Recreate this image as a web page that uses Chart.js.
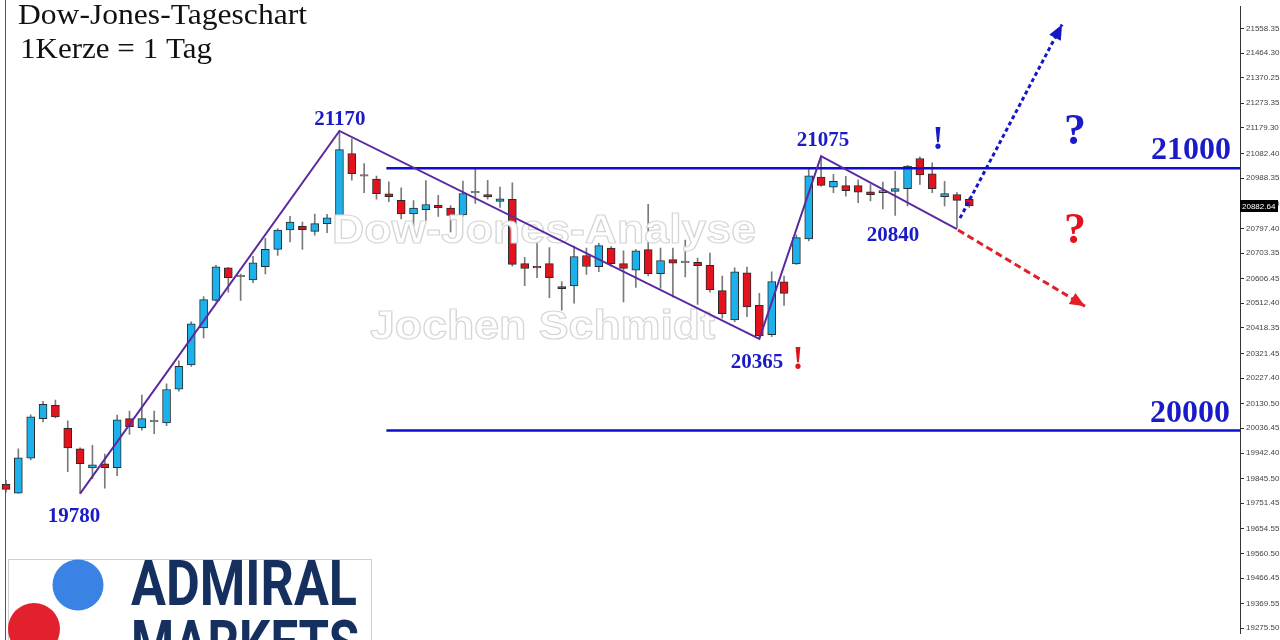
<!DOCTYPE html>
<html><head><meta charset="utf-8">
<script src="https://cdn.jsdelivr.net/npm/chart.js@4.4.1/dist/chart.umd.min.js"></script>
<style>html,body{margin:0;padding:0;background:#fff;}#wrap{width:1280px;height:640px;position:relative;overflow:hidden;}</style>
</head><body><div id="wrap"><canvas id="c" width="1280" height="640"></canvas></div>
<script>
// ---- daily candles (index = trading day) ----
const opens  = [19823,19790,19923,20073,20124,20036,19958,19886,19901,19887,20073,20039,20062,20057,20185,20278,20418,20523,20647,20613,20601,20651,20717,20791,20805,20786,20815,20840,21082,20996,20985,20929,20904,20852,20868,20885,20874,20848,20932,20926,20900,20908,20663,20653,20663,20576,20578,20694,20651,20722,20663,20638,20716,20625,20678,20667,20668,20657,20560,20449,20628,20504,20393,20594,20662,20757,20992,20954,20960,20960,20936,20933,20938,20948,21063,21005,20918,20926,20908];
const highs  = [19838,19958,20088,20139,20144,20065,19962,19972,19938,20087,20102,20163,20102,20206,20293,20442,20538,20657,20649,20623,20691,20759,20796,20843,20821,20852,20851,21168,21138,21044,20996,20974,20951,20903,20979,20923,20884,20977,21026,20980,20954,20970,20687,20754,20724,20595,20730,20722,20740,20728,20712,20716,20889,20722,20722,20753,20684,20703,20616,20647,20650,20550,20632,20616,20773,21026,21069,21003,20995,20982,20964,20973,21014,21037,21069,21047,20976,20933,20914];
const lows   = [19793,19789,19916,20061,20076,19871,19789,19845,19809,19856,20013,20029,20016,20046,20178,20272,20380,20520,20554,20523,20591,20624,20694,20746,20717,20771,20781,20836,20981,20933,20908,20899,20833,20806,20827,20843,20784,20843,20892,20908,20877,20653,20579,20610,20533,20486,20513,20622,20632,20653,20517,20572,20616,20570,20535,20612,20508,20554,20455,20442,20461,20381,20385,20504,20660,20749,20958,20933,20920,20895,20902,20871,20846,20883,20964,20933,20883,20799,20877];
const closes = [19804,19924,20080,20128,20080,19962,19902,19897,19887,20069,20043,20073,20062,20184,20272,20434,20526,20651,20610,20613,20666,20717,20791,20821,20792,20815,20837,21097,21005,20996,20929,20918,20852,20874,20888,20876,20846,20930,20932,20917,20910,20660,20645,20647,20610,20568,20690,20652,20732,20663,20645,20712,20625,20675,20665,20667,20655,20564,20473,20632,20498,20389,20595,20550,20762,20997,20961,20976,20941,20935,20925,20941,20949,21034,21001,20948,20930,20904,20883];
const lastPrice = 20882.64;

// ---- price axis tick labels ----
const yTicks = [21558.35,21464.30,21370.25,21273.35,21179.30,21082.40,20988.35,20891.30,20797.40,20703.35,20606.45,20512.40,20418.35,20321.45,20227.40,20130.50,20036.45,19942.40,19845.50,19751.45,19654.55,19560.50,19466.45,19369.55,19275.50];
const yMin = 19256.7, yMax = 21640.3;
const xMin = -0.486, xMax = 99.92;

// ---- analysis drawings (x = day index, y = price) ----
const zigzagX = [6, 27, 61, 66, 77];
const zigzagY = [19788, 21168, 20377, 21072, 20794];
const levelValues = [21026, 20028];
const levelStartX = [30.8, 30.8];
const upArrowX = [77.25, 85.51];
const upArrowY = [20836, 21573];
const downArrowX = [77.09, 87.37];
const downArrowY = [20791, 20501];

// ---- annotation texts anchored at (day index, price) ----
const annTexts = ['19780','21170','20365','21075','20840','21000','20000','!','!','?','?'];
const annX     = [5.51, 27.04, 60.81, 66.15, 71.82, 95.95, 95.87, 64.13, 75.47, 86.56, 86.56];
const annY     = [19681, 21190, 20266, 21111, 20750, 21060, 20060, 20262, 21100, 21119, 20743];
const annKind  = ['pivot','pivot','pivot','pivot','pivot','level','level','bangRed','bangBlue','askBlue','askRed'];

// ---- styles ----
const BLUE_BODY = '#1db1ec', RED_BODY = '#e3121c', DOJI = '#6a6a6a', WICK = '#7a7a7a', OUTLINE = '#2b2b2b';
const PURPLE = '#5b2aa0', LEVEL = '#0c0cd2', TXT_BLUE = '#1a1ac6', TXT_RED = '#e0141e';
const kindStyle = {
  pivot:   {font:'bold 21px "Liberation Serif"', color:TXT_BLUE},
  level:   {font:'bold 32px "Liberation Serif"', color:TXT_BLUE},
  bangRed: {font:'bold 33px "Liberation Serif"', color:TXT_RED},
  bangBlue:{font:'bold 33px "Liberation Serif"', color:TXT_BLUE},
  askBlue: {font:'bold 44px "Liberation Serif"', color:TXT_BLUE},
  askRed:  {font:'bold 44px "Liberation Serif"', color:TXT_RED}
};

const days = opens.map((_, i) => i);
const isDoji = i => opens[i] === closes[i];
const bodyColors = days.map(i => isDoji(i) ? DOJI : (closes[i] > opens[i] ? BLUE_BODY : RED_BODY));
const bodyBorders = days.map(i => isDoji(i) ? DOJI : OUTLINE);

function fitText(ctx, text, left, baseline, width, font, stroke) {
  ctx.font = font;
  const w = ctx.measureText(text).width;
  ctx.save();
  ctx.translate(left, baseline);
  ctx.scale(width / w, 1);
  ctx.fillText(text, 0, 0);
  if (stroke) ctx.strokeText(text, 0, 0);
  ctx.restore();
}

function drawArrowHead(ctx, p0, p1, color) {
  const a = Math.atan2(p1.y - p0.y, p1.x - p0.x);
  const L = 15, W = 6.5;
  ctx.save();
  ctx.fillStyle = color;
  ctx.beginPath();
  ctx.moveTo(p1.x, p1.y);
  ctx.lineTo(p1.x - L*Math.cos(a) + W*Math.sin(a), p1.y - L*Math.sin(a) - W*Math.cos(a));
  ctx.lineTo(p1.x - L*Math.cos(a) - W*Math.sin(a), p1.y - L*Math.sin(a) + W*Math.cos(a));
  ctx.closePath();
  ctx.fill();
  ctx.restore();
}

const overlay = {
  id: 'overlay',
  afterDatasetDraw(chart, args) {
    if (args.index !== 0) return;
    const ctx = chart.ctx;
    ctx.save();
    ctx.fillStyle = '#ffffff';
    ctx.strokeStyle = '#d6d6d6';
    ctx.lineWidth = 1.2;
    ctx.lineJoin = 'round';
    fitText(ctx, 'Dow-Jones-Analyse', 332, 243, 424, 'bold 40px "Liberation Sans"', true);
    fitText(ctx, 'Jochen Schmidt', 370, 339, 345, 'bold 40px "Liberation Sans"', true);
    ctx.restore();
  },
  afterDraw(chart) {
    const ctx = chart.ctx, xs = chart.scales.x, ys = chart.scales.y;
    // left frame
    ctx.save();
    ctx.strokeStyle = '#555';
    ctx.lineWidth = 1;
    ctx.beginPath(); ctx.moveTo(5.5, 0); ctx.lineTo(5.5, 640); ctx.stroke();
    ctx.restore();
    // arrowheads
    const up = chart.getDatasetMeta(5).data, dn = chart.getDatasetMeta(6).data;
    drawArrowHead(ctx, up[0], up[1], '#1616c4');
    drawArrowHead(ctx, dn[0], dn[1], '#e3202a');
    // annotation texts
    ctx.save();
    ctx.textAlign = 'center';
    ctx.textBaseline = 'alphabetic';
    annTexts.forEach((t, i) => {
      const st = kindStyle[annKind[i]];
      ctx.font = st.font; ctx.fillStyle = st.color;
      ctx.fillText(t, xs.getPixelForValue(annX[i]), ys.getPixelForValue(annY[i]));
    });
    ctx.restore();
    // price tag
    const py = Math.round(ys.getPixelForValue(lastPrice));
    ctx.save();
    ctx.fillStyle = '#000';
    ctx.fillRect(1240, py - 6, 38, 12);
    ctx.fillStyle = '#fff';
    ctx.font = '8px "Liberation Sans"';
    ctx.textBaseline = 'middle';
    ctx.fillText(lastPrice.toFixed(2), 1242, py + 0.5);
    ctx.restore();
    // title
    ctx.save();
    ctx.fillStyle = '#111';
    fitText(ctx, 'Dow-Jones-Tageschart', 18, 24, 289, '29px "Liberation Serif"');
    fitText(ctx, '1Kerze = 1 Tag', 20, 58, 192, '29px "Liberation Serif"');
    ctx.restore();
    // logo
    ctx.save();
    ctx.fillStyle = '#fff';
    ctx.fillRect(8, 560, 364, 80);
    ctx.strokeStyle = '#cfcfcf';
    ctx.lineWidth = 1;
    ctx.strokeRect(8.5, 559.5, 363, 90);
    ctx.fillStyle = '#3a82e4';
    ctx.beginPath(); ctx.arc(78, 585, 25.5, 0, Math.PI*2); ctx.fill();
    ctx.fillStyle = '#e2202e';
    ctx.beginPath(); ctx.arc(34, 629, 26, 0, Math.PI*2); ctx.fill();
    ctx.fillStyle = '#15305e';
    fitText(ctx, 'ADMIRAL', 131, 605, 226, 'bold 63px Roboto');
    fitText(ctx, 'MARKETS', 131, 665, 228, 'bold 63px Roboto');
    ctx.restore();
  }
};

new Chart(document.getElementById('c'), {
  type: 'bar',
  data: {
    datasets: [
      {type:'bar', label:'body', data: days.map(i => ({x:i, y:[opens[i], closes[i]]})),
       backgroundColor: bodyColors, borderColor: bodyBorders, borderWidth: 1, borderSkipped: false,
       barThickness: 8, grouped: false, minBarLength: 1.5, order: 1},
      {type:'bar', label:'wick', data: days.map(i => ({x:i, y:[lows[i], highs[i]]})),
       backgroundColor: WICK, borderWidth: 0, barThickness: 1, grouped: false, order: 2},
      {type:'line', label:'zigzag', data: zigzagX.map((x, i) => ({x, y: zigzagY[i]})),
       borderColor: PURPLE, borderWidth: 2, pointRadius: 0, tension: 0, order: 0},
      {type:'line', label:'level1', data: [{x: levelStartX[0], y: levelValues[0]}, {x: xMax + 2, y: levelValues[0]}],
       borderColor: LEVEL, borderWidth: 2.5, pointRadius: 0, order: 0},
      {type:'line', label:'level2', data: [{x: levelStartX[1], y: levelValues[1]}, {x: xMax + 2, y: levelValues[1]}],
       borderColor: LEVEL, borderWidth: 2.5, pointRadius: 0, order: 0},
      {type:'line', label:'up', data: upArrowX.map((x, i) => ({x, y: upArrowY[i]})),
       borderColor: '#1616c4', borderWidth: 3, borderDash: [4, 3], pointRadius: 0, order: 0},
      {type:'line', label:'down', data: downArrowX.map((x, i) => ({x, y: downArrowY[i]})),
       borderColor: '#e3202a', borderWidth: 3, borderDash: [7, 4], pointRadius: 0, order: 0}
    ]
  },
  options: {
    responsive: false,
    animation: false,
    events: [],
    devicePixelRatio: 1,
    layout: {padding: 0},
    plugins: {legend: {display: false}, tooltip: {enabled: false}},
    scales: {
      x: {type: 'linear', display: false, min: xMin, max: xMax, offset: false},
      y: {
        type: 'linear', position: 'right', min: yMin, max: yMax, bounds: 'data',
        afterBuildTicks: s => { s.ticks = yTicks.map(v => ({value: v})); },
        afterFit: s => { s.width = 40; },
        ticks: {autoSkip: false, padding: 2, color: '#444', font: {family: 'Liberation Sans', size: 8},
                callback: v => Number(v).toFixed(2)},
        grid: {drawOnChartArea: false, drawTicks: true, tickLength: 4, color: '#333'},
        border: {display: true, color: '#333', width: 1}
      }
    }
  },
  plugins: [overlay]
});
</script>
</body></html>
